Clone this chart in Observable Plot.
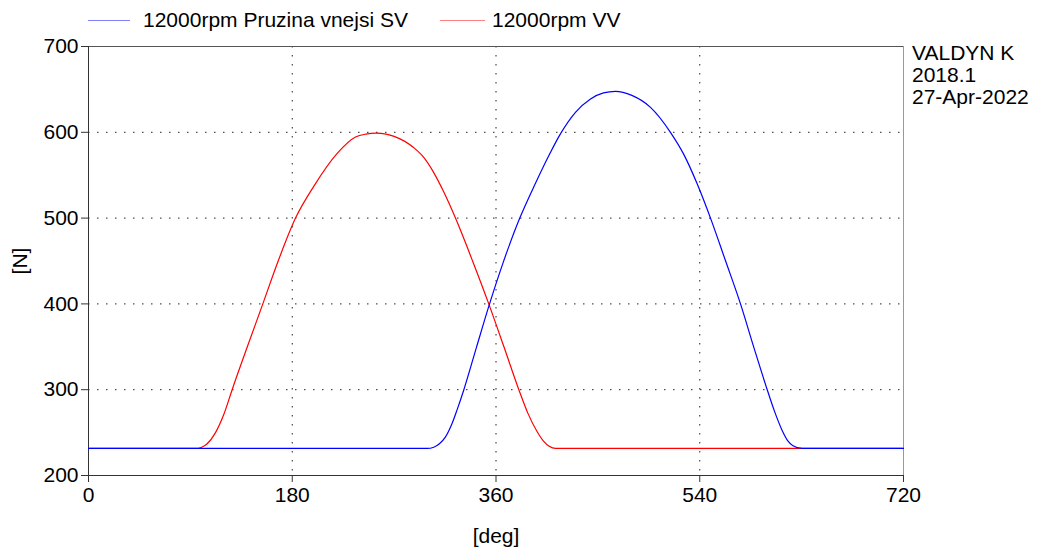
<!DOCTYPE html>
<html>
<head>
<meta charset="utf-8">
<script src="https://cdn.jsdelivr.net/npm/d3@7"></script>
<script src="https://cdn.jsdelivr.net/npm/@observablehq/plot@0.6"></script>
<style>
  body { margin: 0; background: #fff; font-family: "Liberation Sans", Arial, sans-serif; }
  #wrap { position: relative; width: 1037px; height: 549px; overflow: hidden; }
  #chart { position: absolute; left: 0; top: 0; }
  .leg { position: absolute; top: 8px; font-size: 21px; color: #000; white-space: nowrap; }
  .leg .sw { position: absolute; top: 12px; height: 1px; }
  .note { position: absolute; left: 912px; font-size: 21px; line-height: 22px; color: #000; white-space: nowrap; }
</style>
</head>
<body>
<div id="wrap">
  <div id="chart"></div>
  <div class="leg" style="left:88px;"><span class="sw" style="left:0;width:42px;background:#7f7fff;"></span><span style="margin-left:55px;">12000rpm Pruzina vnejsi SV</span></div>
  <div class="leg" style="left:440px;"><span class="sw" style="left:0;width:45px;background:#ff8080;"></span><span style="margin-left:52px;">12000rpm VV</span></div>
  <div class="note" style="top:42px;">VALDYN K<br>2018.1<br>27-Apr-2022</div>
</div>
<script>
// Series names
const seriesNames = ["12000rpm Pruzina vnejsi SV", "12000rpm VV"];

// Blue: 12000rpm Pruzina vnejsi SV  (angle [deg], force [N])
const angleSV = [0, 299.2, 305, 310, 315.4, 321, 326, 331.6, 342.8, 354.3, 366, 381, 395, 407.5, 416.4, 430.2, 443.5, 455, 465.5, 480, 496.5, 514.1, 526, 537.7, 549.5, 562.7, 576, 587.7, 599.6, 606, 612.8, 618, 622, 630.5, 720];
const forceSV = [231.5, 231.5, 233, 237, 245, 260, 278, 300, 349.7, 400, 447, 500, 541, 575, 597, 623.3, 638.9, 646, 647.8, 643, 629.1, 600, 574, 540, 500, 450.5, 400, 349.7, 300, 275, 252.5, 240, 235, 231.5, 231.5];

// Red: 12000rpm VV  (angle [deg], force [N])
const angleVV = [0, 94.5, 100, 104.8, 112.2, 119.5, 126.9, 140.3, 154, 167, 182.9, 199, 219.7, 235.9, 245, 254, 263, 270, 287.4, 296, 305, 314, 324.2, 339.3, 353.6, 367, 380.2, 388, 396.4, 402, 407, 412.6, 720];
const forceVV = [231.5, 231.5, 233, 237, 250, 271, 300, 350, 400, 448, 500, 537, 575.4, 594.5, 597.9, 599, 597.9, 595.3, 582, 571, 553, 530, 500, 450, 400, 350, 300, 273, 251, 240, 234, 231.5, 231.5];

// Axis ticks
const xTicks = [0, 180, 360, 540, 720];
const yTicks = [200, 300, 400, 500, 600, 700];
const xGrid = [180, 360, 540];
const yGrid = [300, 400, 500, 600];

const dataSV = angleSV.map((a, i) => ({angle: a, force: forceSV[i], series: seriesNames[0]}));
const dataVV = angleVV.map((a, i) => ({angle: a, force: forceVV[i], series: seriesNames[1]}));

const chart = Plot.plot({
  width: 1037,
  height: 549,
  marginLeft: 88,
  marginRight: 134,
  marginTop: 46,
  marginBottom: 74,
  style: {fontFamily: "'Liberation Sans', Arial, sans-serif", fontSize: "21px", color: "#000", background: "#fff"},
  x: {domain: [0, 720], ticks: xTicks},
  y: {domain: [200, 700], ticks: yTicks},
  marks: [
    Plot.gridX(xGrid, {stroke: "#222", strokeOpacity: 1, strokeDasharray: "1.5,7.5"}),
    Plot.gridY(yGrid, {stroke: "#222", strokeOpacity: 1, strokeDasharray: "1.5,7.5"}),
    Plot.ruleY([700], {stroke: "#555"}),
    Plot.ruleX([720], {stroke: "#999"}),
    Plot.ruleY([200], {stroke: "#333"}),
    Plot.ruleX([0], {stroke: "#333"}),
    Plot.axisX({ticks: xTicks, tickSize: 7, tickPadding: 5, stroke: "#333", label: "[deg]", labelAnchor: "center", labelArrow: "none", labelOffset: 67, tickFormat: d => String(d)}),
    Plot.axisY({ticks: yTicks, tickSize: 7, tickPadding: 3, stroke: "#333", label: "[N]", labelAnchor: "center", labelArrow: "none", labelOffset: 76, tickFormat: d => String(d)}),
    Plot.line(dataVV, {x: "angle", y: "force", stroke: "#ff0000", strokeWidth: 1.2, curve: "monotone-x"}),
    Plot.line(dataSV, {x: "angle", y: "force", stroke: "#0000ff", strokeWidth: 1.2, curve: "monotone-x"})
  ]
});
document.getElementById("chart").appendChild(chart);
</script>
</body>
</html>
